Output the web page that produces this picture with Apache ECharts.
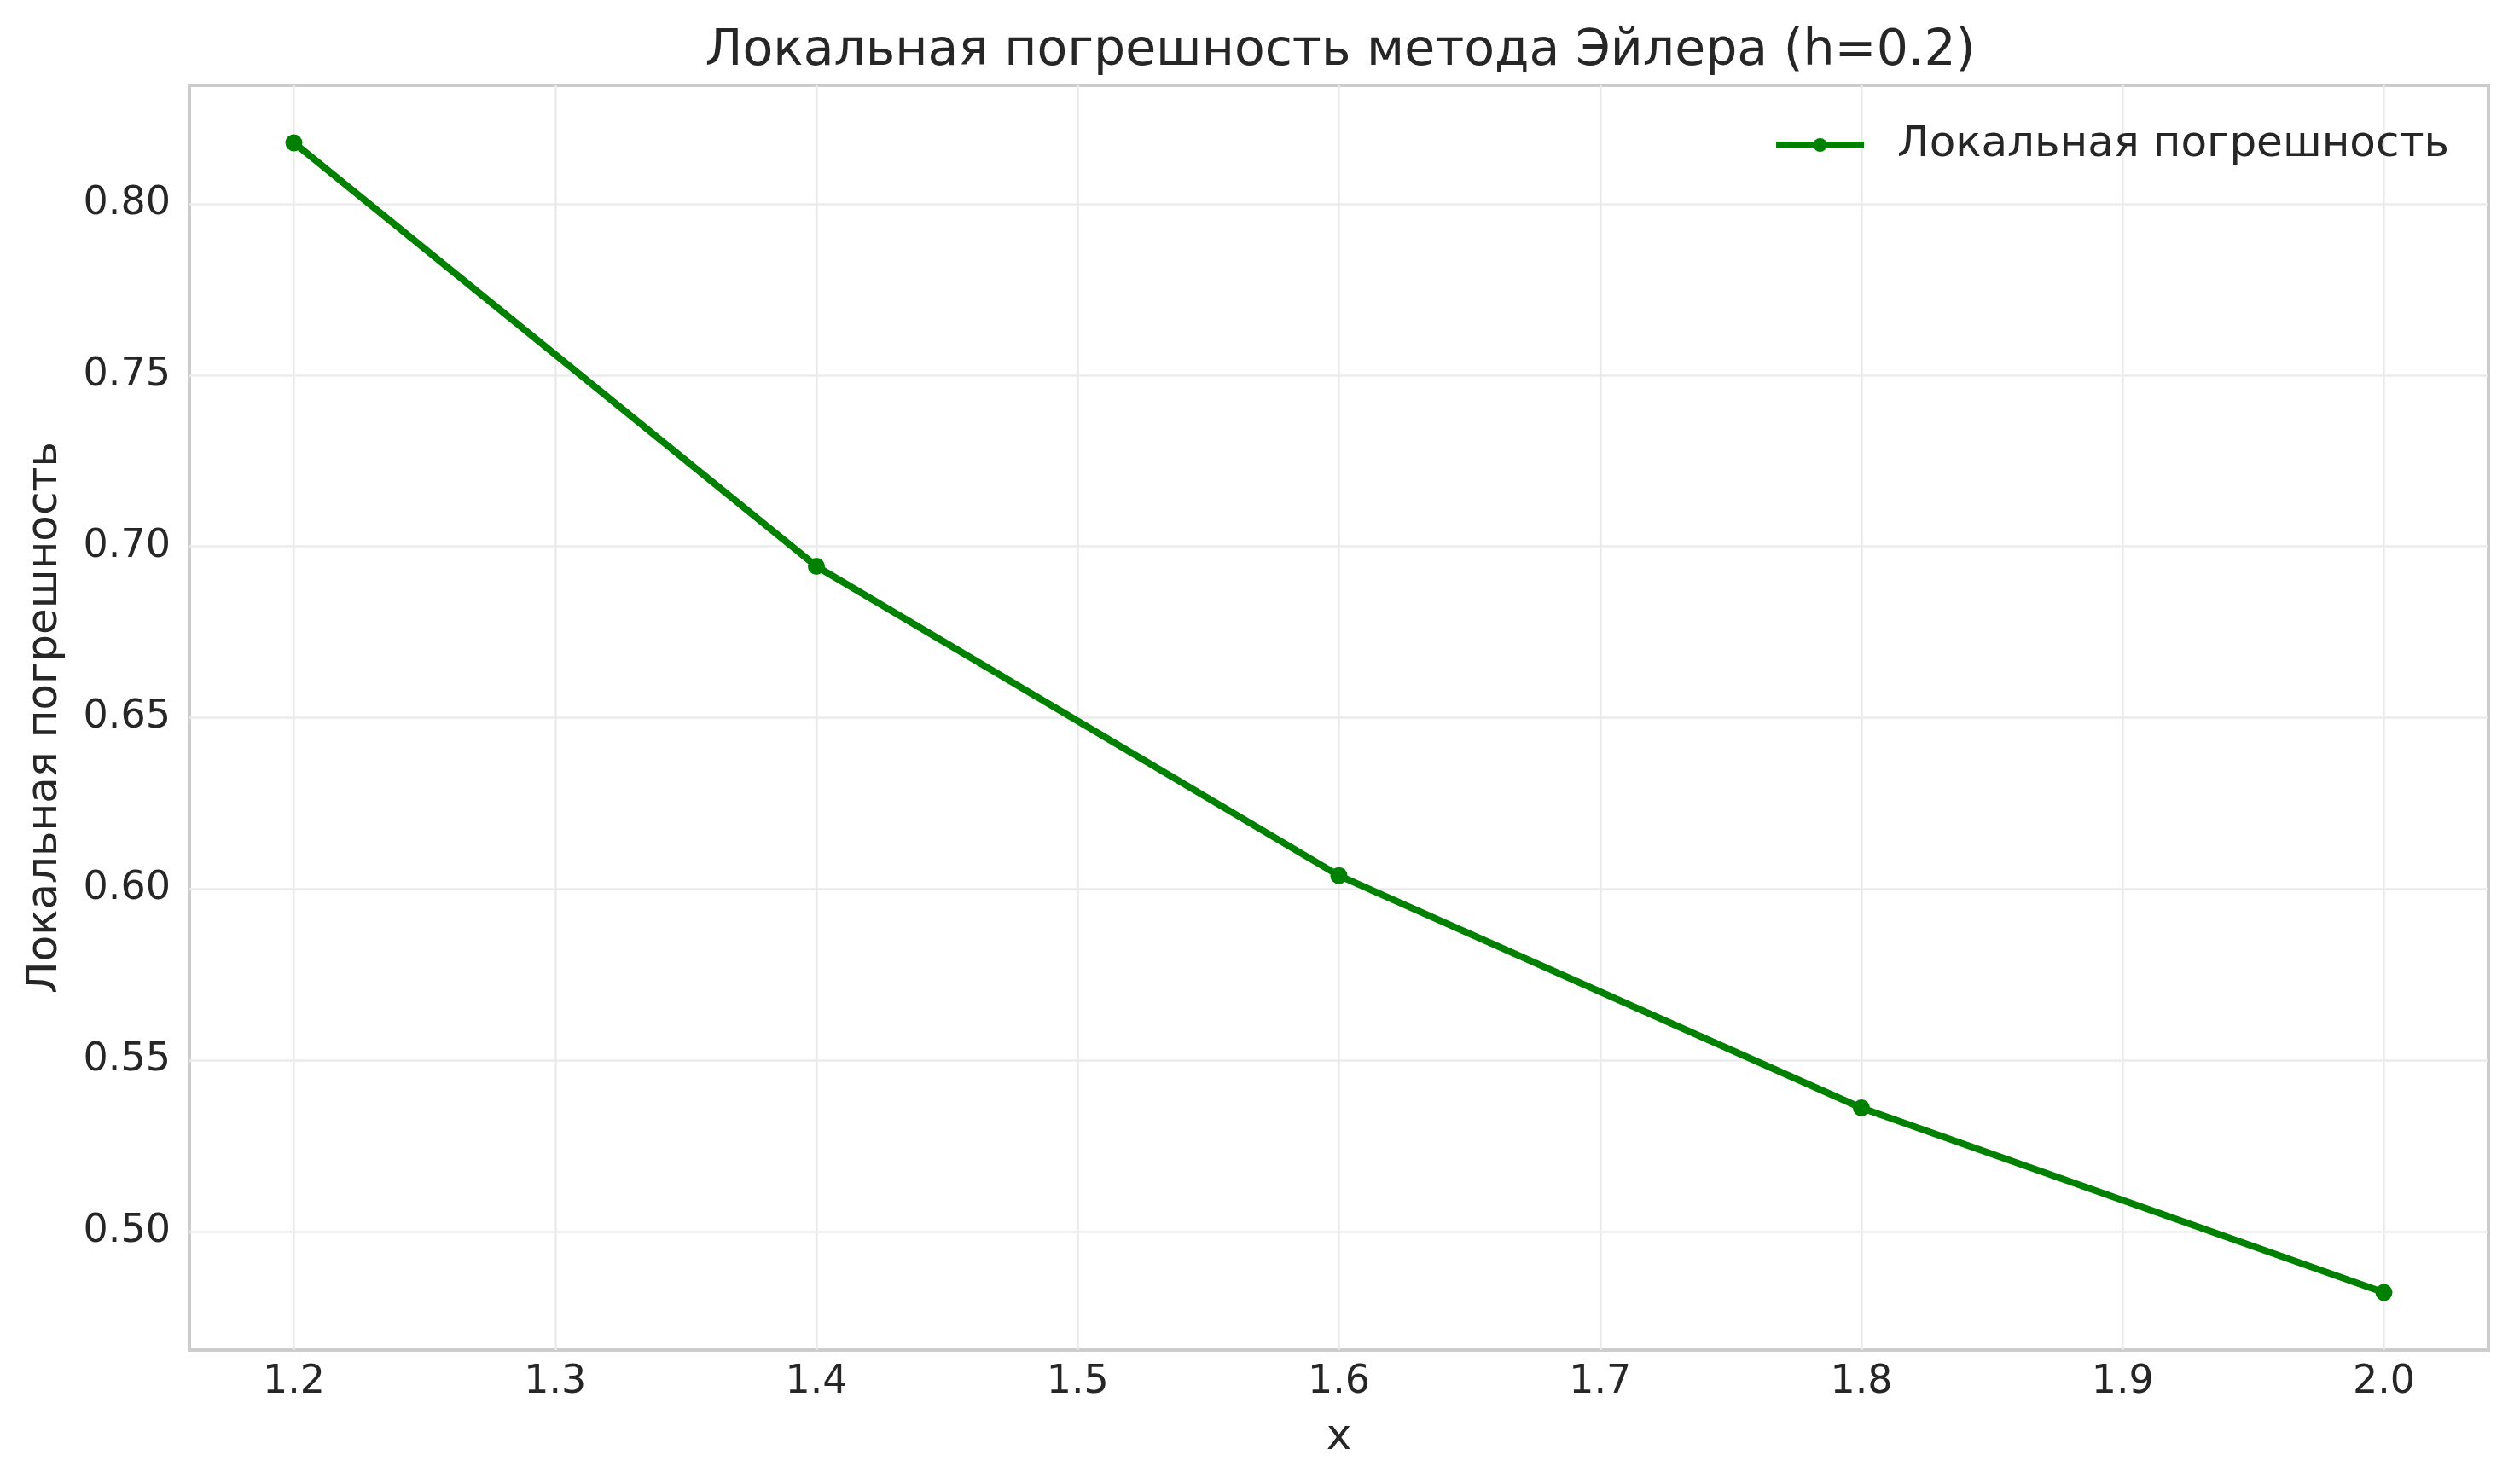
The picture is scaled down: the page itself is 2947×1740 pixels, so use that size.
<!DOCTYPE html>
<html><head><meta charset="utf-8">
<script src="https://cdn.jsdelivr.net/npm/echarts@6/dist/echarts.min.js"></script>
<style>html,body{margin:0;padding:0;background:#fff}#c{width:2947px;height:1740px}</style>
</head><body><div id="c"></div>
<script>
const xValues = [1.2, 1.4, 1.6, 1.8, 2.0];
const localError = [0.8178, 0.6942, 0.6039, 0.5361, 0.4822];
const xTicks = [1.2, 1.3, 1.4, 1.5, 1.6, 1.7, 1.8, 1.9, 2.0];
const yTicks = [0.50, 0.55, 0.60, 0.65, 0.70, 0.75, 0.80];
const seriesName = 'Локальная погрешность';

const FONT = 'DejaVu Sans';
const TXT = '#262626';
const chart = echarts.init(document.getElementById('c'), null, {renderer: 'canvas'});
chart.setOption({
  backgroundColor: '#ffffff',
  animation: false,
  title: {
    text: 'Локальная погрешность метода Эйлера (h=0.2)',
    left: 1566, top: 56, textAlign: 'center', textVerticalAlign: 'middle',
    textStyle: {fontFamily: FONT, fontSize: 58.5, fontWeight: 'normal', color: TXT}
  },
  legend: {
    right: 71, top: 140,
    itemWidth: 103, itemHeight: 20,
    lineStyle: {width: 8, color: '#008000'},
    itemStyle: {color: '#008000'},
    textStyle: {fontFamily: FONT, fontSize: 50, color: TXT, padding: [0, 0, 0, 34]},
    data: [seriesName]
  },
  grid: {left: 222, right: 30, top: 100, bottom: 157, show: true, borderColor: '#cccccc', borderWidth: 4, backgroundColor: '#ffffff'},
  xAxis: {
    type: 'value', min: 1.16, max: 2.04,
    name: 'x', nameLocation: 'middle', nameGap: 78,
    nameTextStyle: {fontFamily: FONT, fontSize: 50, color: TXT},
    axisLine: {show: false},
    axisTick: {show: false, customValues: xTicks},
    axisLabel: {customValues: xTicks, fontFamily: FONT, fontSize: 46, color: TXT, margin: 15,
      formatter: v => v.toFixed(1)},
    splitLine: {show: true, lineStyle: {color: '#ebebeb', width: 2.5}}
  },
  yAxis: {
    type: 'value', min: 0.4654, max: 0.8346,
    name: seriesName, nameLocation: 'middle', nameGap: 144, nameRotate: 90,
    nameTextStyle: {fontFamily: FONT, fontSize: 50, color: TXT},
    axisLine: {show: false},
    axisTick: {show: false, customValues: yTicks},
    axisLabel: {customValues: yTicks, fontFamily: FONT, fontSize: 46, color: TXT, margin: 22,
      formatter: v => v.toFixed(2)},
    splitLine: {show: true, lineStyle: {color: '#ebebeb', width: 2.5}}
  },
  series: [{
    name: seriesName,
    type: 'line',
    data: xValues.map((x, i) => [x, localError[i]]),
    color: '#008000',
    lineStyle: {color: '#008000', width: 8},
    symbol: 'circle', symbolSize: 20,
    itemStyle: {color: '#008000'},
    showAllSymbol: true
  }]
});
</script></body></html>
